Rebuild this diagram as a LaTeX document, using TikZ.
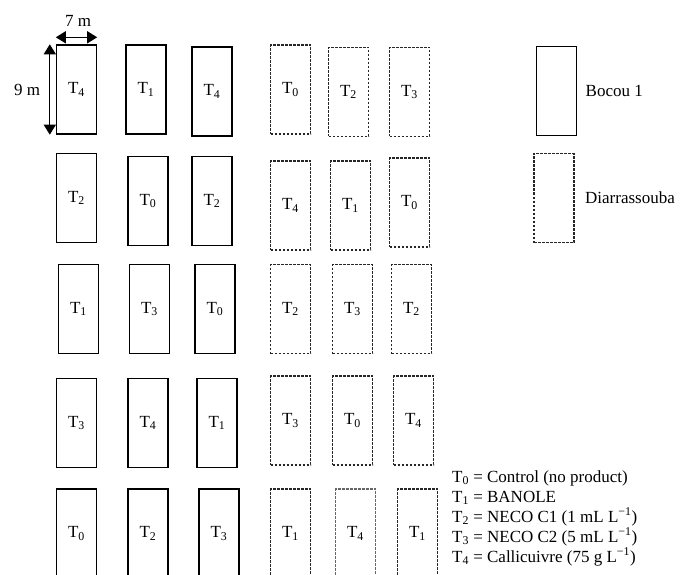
\documentclass[tikz,border=0pt]{standalone}
\usepackage{fontspec}
\setmainfont{Liberation Serif}
\usepackage{tikz}
\usetikzlibrary{arrows.meta,positioning}
\newcommand{\trt}[1]{T\textsubscript{#1}}

\begin{document}
\begin{tikzpicture}[x=1pt,y=-1pt,font=\fontsize{17}{20}\selectfont,
  plot/.style={draw,line width=1.4pt,minimum width=40pt,minimum height=89pt,inner sep=0pt},
  bocou/.style={plot},
  diarra/.style={plot,black!85,line width=1.3pt,dash pattern=on 2.6pt off 1.4pt},
  dimarrow/.style={{Triangle[length=10pt,width=12pt]}-{Triangle[length=10pt,width=12pt]},line width=1.3pt}]
\useasboundingbox (0,0) rectangle (680,575);
% Bocou 1 plots
\node[bocou] (b11) at (76.5,89.5) {\trt{4}};
\node[bocou] (b12) at (146,89.5) {\trt{1}};
\node[bocou] (b13) at (212,91.5) {\trt{4}};
\node[bocou] (b21) at (76.5,198) {\trt{2}};
\node[bocou] (b22) at (148,201) {\trt{0}};
\node[bocou] (b23) at (212,201) {\trt{2}};
\node[bocou] (b31) at (78.5,309) {\trt{1}};
\node[bocou] (b32) at (149.5,309) {\trt{3}};
\node[bocou] (b33) at (215,309) {\trt{0}};
\node[bocou] (b41) at (76.5,423) {\trt{3}};
\node[bocou] (b42) at (148,423) {\trt{4}};
\node[bocou] (b43) at (217,423) {\trt{1}};
\node[bocou] (b51) at (76.5,533.5) {\trt{0}};
\node[bocou] (b52) at (148,533.5) {\trt{2}};
\node[bocou] (b53) at (219,533.5) {\trt{3}};
% Diarrassouba plots
\node[diarra,text=black] (d14) at (290.5,89.5) {\trt{0}};
\node[diarra,text=black] (d15) at (348.5,92) {\trt{2}};
\node[diarra,text=black] (d16) at (409.5,92) {\trt{3}};
\node[diarra,text=black] (d24) at (290.5,205.5) {\trt{4}};
\node[diarra,text=black] (d25) at (350.5,205.5) {\trt{1}};
\node[diarra,text=black] (d26) at (409.5,202.5) {\trt{0}};
\node[diarra,text=black] (d34) at (290.5,309) {\trt{2}};
\node[diarra,text=black] (d35) at (352.5,309) {\trt{3}};
\node[diarra,text=black] (d36) at (411.5,309) {\trt{2}};
\node[diarra,text=black] (d44) at (290.5,420.5) {\trt{3}};
\node[diarra,text=black] (d45) at (352.5,420.5) {\trt{0}};
\node[diarra,text=black] (d46) at (413.5,420.5) {\trt{4}};
\node[diarra,text=black] (d54) at (290.5,533.5) {\trt{1}};
\node[diarra,black!60,text=black] (d55) at (355.5,533.5) {\trt{4}};
\node[diarra,text=black] (d56) at (417.5,533.5) {\trt{1}};
% plot size
\draw[dimarrow] ([yshift=7pt]b11.north west) -- ([yshift=7pt]b11.north east);
\draw[dimarrow] ([xshift=-6pt]b11.north west) -- ([xshift=-6pt]b11.south west);
\node (width) at (78,21) {7 m};
\node (height) at (27,90) {9 m};
% legend
\node[bocou] (lb) at (556.5,91) {};
\node[diarra] (ld) at (554,198) {};
\node[right=5pt of lb] (lbtext) {Bocou 1};
\node[right=7pt of ld] (ldtext) {Diarrassouba};
\node[anchor=base west,inner sep=0pt] (k0) at (452,482) {\trt{0} = Control (no product)};
\node[anchor=base west,inner sep=0pt] (k1) at (452,502) {\trt{1} = BANOLE};
\node[anchor=base west,inner sep=0pt] (k2) at (452,522) {\trt{2} = NECO C1 (1 mL L\textsuperscript{−1})};
\node[anchor=base west,inner sep=0pt] (k3) at (452,542) {\trt{3} = NECO C2 (5 mL L\textsuperscript{−1})};
\node[anchor=base west,inner sep=0pt] (k4) at (452,562) {\trt{4} = Callicuivre (75 g L\textsuperscript{−1})};
\end{tikzpicture}
\end{document}
